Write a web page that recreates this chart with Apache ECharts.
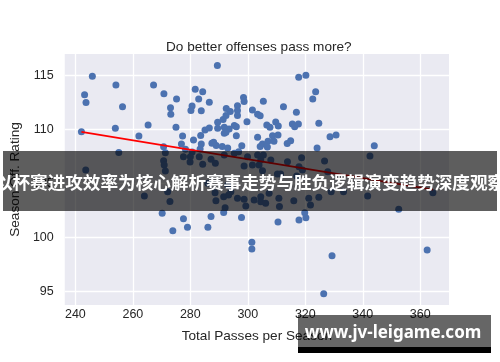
<!DOCTYPE html>
<html>
<head>
<meta charset="utf-8">
<script src="https://cdn.jsdelivr.net/npm/echarts@6/dist/echarts.min.js"></script>
<style>
html,body{margin:0;padding:0;background:#fff;}
#chart{width:500px;height:362px;}
</style>
</head>
<body>
<div id="chart"></div>
<script>
// ---- data ----
var passes = [
245.9,254.1,243.2,243.7,256.4,267.2,270.8,275.2,273.1,273.2,265.3,253.9,242.1,275.0,262.1,277.3,276.9,270.7,278.3,281.1,
289.4,281.7,284.3,282.9,286.6,280.6,280.2,283.8,283.6,283.4,283.8,285.1,286.6,287.5,289.0,291.1,289.5,289.5,291.4,292.4,
292.5,293.9,296.4,296.4,296.4,298.5,298.7,299.7,291.8,293.5,291.8,295.3,296.0,292.4,288.1,293.0,297.9,301.6,303.4,304.3,
305.4,306.6,307.7,309.7,310.6,312.4,316.9,315.5,317.6,316.3,317.7,320.2,323.6,322.6,324.7,303.4,305.1,307.0,306.8,309.1,
310.5,308.6,313.7,314.9,324.1,328.6,330.7,344.0,304.3,296.0,
255.1,271.3,270.7,270.9,271.3,243.6,264.0,272.1,272.9,277.6,279.9,280.6,283.1,287.2,288.7,284.3,291.8,295.3,296.8,299.9,
303.4,305.4,308.0,298.7,301.6,303.9,305.1,304.5,313.8,317.8,319.0,310.3,311.4,317.0,286.1,293.0,294.1,288.9,291.6,296.4,
298.7,302.2,304.5,304.5,306.2,310.8,311.0,316.0,321.2,321.8,324.7,318.7,326.7,327.8,342.5,341.7,329.0,333.3,288.6,293.3,
292.1,299.3,280.0,307.4,352.5,364.4,
270.2,277.6,273.9,279.0,286.1,287.2,291.6,297.8,301.4,301.4,310.5,317.8,319.8,320.2,329.3,326.4,362.4
];
var rating = [
114.94,114.14,113.24,112.52,112.13,114.14,113.33,112.84,112.04,111.43,110.44,110.13,109.80,110.22,109.42,109.42,108.68,108.43,108.19,109.05,
115.94,113.74,113.52,112.84,112.54,112.19,111.78,111.76,109.46,108.21,108.68,109.97,110.16,108.74,108.54,108.44,110.13,110.69,110.94,111.31,
111.96,111.69,112.22,111.78,111.31,112.98,112.61,110.73,109.67,110.06,110.22,110.39,109.44,109.76,108.83,108.31,108.52,111.82,111.43,111.30,
112.64,110.44,110.22,110.71,110.34,112.13,111.62,110.53,110.53,110.28,114.85,115.04,113.52,112.84,110.60,109.30,108.68,108.93,108.40,108.93,
109.51,109.44,108.72,108.98,108.31,109.35,109.51,108.52,108.44,110.28,
107.89,107.87,107.13,106.73,106.18,106.27,103.86,104.26,103.35,107.50,107.01,107.94,107.50,107.26,106.89,106.80,107.66,107.81,107.96,107.50,
107.66,107.66,107.19,106.64,106.73,106.73,106.20,107.19,107.04,106.57,106.27,105.90,105.90,105.71,105.04,104.88,104.26,103.43,103.80,103.65,
103.56,103.49,103.80,103.33,103.19,103.65,102.89,103.43,103.65,103.03,103.74,107.41,107.10,106.11,107.56,103.86,104.26,104.26,104.17,103.95,
102.78,102.94,107.50,104.11,102.63,104.17,
102.26,101.76,100.65,100.96,100.96,101.96,102.33,101.87,99.57,98.95,101.45,101.64,102.31,101.85,98.33,94.81,98.86
];
var fitPasses = [242.1, 364.4];
var fitRating = [109.80, 104.45];
var xTicks = [240, 260, 280, 300, 320, 340, 360];
var yTicks = [95, 100, 105, 110, 115];
var titleText = 'Do better offenses pass more?';
var xName = 'Total Passes per Season';
var yName = 'Season Off. Rating';
var bannerText = '以杯赛进攻效率为核心解析赛事走势与胜负逻辑演变趋势深度观察';
var markText = 'www.jv-leigame.com';

var points = passes.map(function (p, i) { return [p, rating[i]]; });
var fitLine = fitPasses.map(function (p, i) { return [p, fitRating[i]]; });

var chart = echarts.init(document.getElementById('chart'), null, {renderer: 'canvas'});
var font = '"Liberation Sans", Arial, sans-serif';
chart.setOption({
  backgroundColor: '#ffffff',
  animation: false,
  title: {
    text: titleText,
    left: 161, top: 35,
    textStyle: {fontSize: 13.6, fontWeight: 'normal', color: '#262626', fontFamily: font}
  },
  grid: {
    left: 63, top: 54, width: 386, height: 251,
    show: true, backgroundColor: '#eaeaf2', borderWidth: 0
  },
  xAxis: {
    type: 'value', min: 236.3, max: 370.0,
    name: xName, nameLocation: 'middle', nameGap: 24,
    nameTextStyle: {fontSize: 13.6, color: '#262626', fontFamily: font},
    axisLine: {show: false},
    axisTick: {show: false, customValues: xTicks},
    axisLabel: {customValues: xTicks, fontSize: 12.5, color: '#262626', fontFamily: font, margin: 3},
    splitLine: {show: true, lineStyle: {color: '#ffffff', width: 1.3}}
  },
  yAxis: {
    type: 'value', min: 93.77, max: 117.01,
    name: yName, nameLocation: 'middle', nameGap: 36, nameRotate: 90,
    nameTextStyle: {fontSize: 13.6, color: '#262626', fontFamily: font},
    axisLine: {show: false},
    axisTick: {show: false, customValues: yTicks},
    axisLabel: {customValues: yTicks, fontSize: 12.5, color: '#262626', fontFamily: font, margin: 11},
    splitLine: {show: true, lineStyle: {color: '#ffffff', width: 1.3}}
  },
  series: [
    {
      type: 'scatter', data: points, symbolSize: 7,
      itemStyle: {color: '#4c72b0', opacity: 1},
      z: 2
    },
    {
      type: 'line', data: fitLine, showSymbol: false, symbol: 'none',
      lineStyle: {color: '#ff0000', width: 1.6},
      z: 3
    }
  ],
  graphic: [
    {type: 'rect', z: 100, shape: {x: 3, y: 151, width: 494, height: 60},
     style: {fill: 'rgba(0,0,0,0.63)'}},
    {type: 'text', z: 101, x: 250, y: 182,
     style: {text: bannerText, fill: '#ffffff', fontSize: 17.6, fontWeight: 'bold',
             fontFamily: '"Noto Sans CJK SC", sans-serif', align: 'center', verticalAlign: 'middle'}},
    {type: 'rect', z: 100, shape: {x: 298, y: 315, width: 193, height: 32},
     style: {fill: 'rgba(0,0,0,0.6)'}},
    {type: 'rect', z: 100, shape: {x: 298, y: 347, width: 193, height: 6},
     style: {fill: '#000000'}},
    {type: 'text', z: 101, x: 393, y: 333,
     style: {text: markText, fill: '#ffffff', fontSize: 17, fontWeight: 'bold',
             fontFamily: '"Noto Sans", sans-serif', align: 'center', verticalAlign: 'middle'}}
  ]
});
</script>
</body>
</html>
